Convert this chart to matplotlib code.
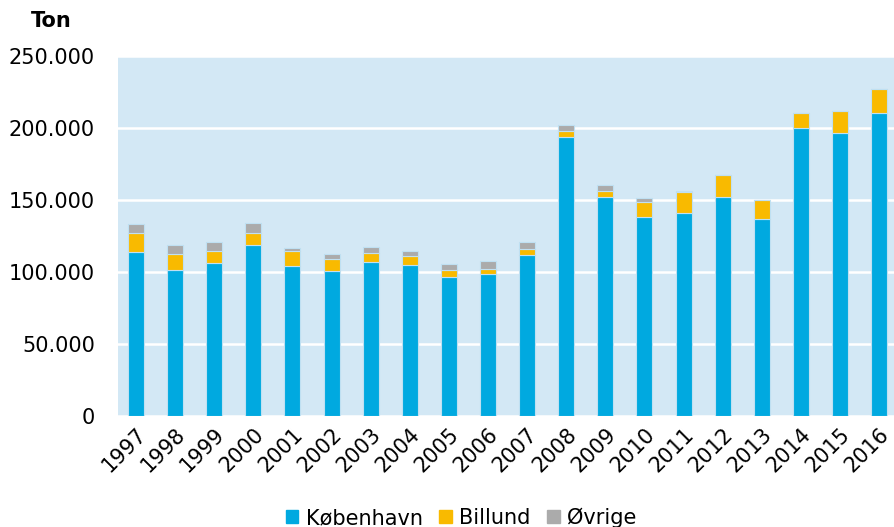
import matplotlib.pyplot as plt
import numpy as np
from matplotlib.ticker import FuncFormatter, MultipleLocator
from matplotlib.patches import Patch

years = [str(y) for y in range(1997, 2017)]
koebenhavn = [114100, 101600, 106500, 119000, 104200, 100700, 107200, 105100, 96700, 98600,
              112000, 193750, 151900, 138200, 141200, 152300, 136800, 200200, 196700, 210200]
billund = [13000, 11100, 8300, 8100, 10400, 8500, 6200, 6000, 4900, 3700,
           3700, 4000, 4600, 10200, 14400, 14800, 13400, 10200, 15100, 16900]
oevrige = [6000, 6000, 6000, 7100, 2100, 3100, 4000, 3300, 4000, 5300,
           5100, 4200, 3900, 2800, 700, 300, 0, 0, 0, 0]

c_kbh = '#00a9e0'
c_bll = '#f9ba00'
c_ovr = '#ababab'
bg = '#d3e8f5'

W, H = 894, 527
fig = plt.figure(figsize=(W / 100, H / 100), dpi=100, facecolor='white')
ax = fig.add_axes([118 / W, (H - 416) / H, (W - 118) / W, (416 - 56) / H])
ax.set_facecolor(bg)

x = np.arange(len(years))
k = np.array(koebenhavn)
b = np.array(billund)
o = np.array(oevrige)
bw = 0.41
edge = dict(edgecolor='#bfe0f2', linewidth=0.8)
ax.bar(x, k, bw, color=c_kbh, zorder=3, **edge)
ax.bar(x, b, bw, bottom=k, color=c_bll, zorder=3, **edge)
ax.bar(x, o, bw, bottom=k + b, color=c_ovr, zorder=3, **edge)

ax.set_xlim(-0.46, 19.38)
ax.set_ylim(0, 250000)
ax.yaxis.set_major_locator(MultipleLocator(50000))
ax.yaxis.set_major_formatter(FuncFormatter(lambda v, p: f"{int(v):,}".replace(",", ".")))
ax.grid(axis='y', color='white', linewidth=1.8, zorder=1)
ax.set_axisbelow(True)
for s in ax.spines.values():
    s.set_visible(False)

ax.set_xticks(x)
ax.set_xticklabels(years, rotation=45, ha='right', rotation_mode='anchor')
ax.tick_params(axis='both', length=0, labelsize=15, colors='black')
ax.tick_params(axis='x', pad=6)
ax.tick_params(axis='y', pad=16.5)

fig.text(51 / W, 1 - 21 / H, 'Ton', fontsize=15, fontweight='bold', ha='center', va='center')

handles = [Patch(color=c_kbh, label='København'),
           Patch(color=c_bll, label='Billund'),
           Patch(color=c_ovr, label='Øvrige')]
fig.legend(handles=handles, loc='center', bbox_to_anchor=(461 / W, 9 / H), ncol=3,
           frameon=False, fontsize=15, handlelength=0.6, handleheight=0.6,
           handletextpad=0.35, columnspacing=0.8)

fig.savefig('out.png', dpi=100)
